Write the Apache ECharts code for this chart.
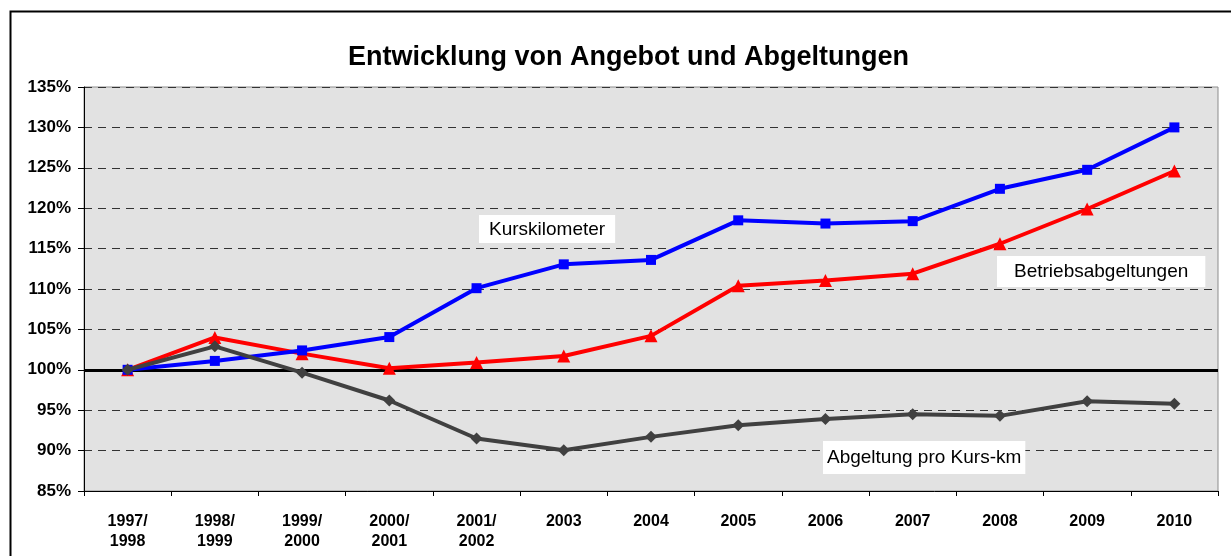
<!DOCTYPE html>
<html>
<head>
<meta charset="utf-8">
<script src="https://cdn.jsdelivr.net/npm/echarts@6/dist/echarts.min.js"></script>
<style>
  html, body { margin: 0; padding: 0; background: #fff; }
  #chart { width: 1231px; height: 556px; }
</style>
</head>
<body>
<div id="chart"></div>
<script>
const categories = ['1997/\n1998', '1998/\n1999', '1999/\n2000', '2000/\n2001', '2001/\n2002',
    '2003', '2004', '2005', '2006', '2007', '2008', '2009', '2010'];
// Werte in Prozent (1997/98 = 100%)
const kurskilometer = [100, 101.1, 102.4, 104.05, 110.1, 113.05, 113.6, 118.5, 118.1, 118.4, 122.4, 124.75, 130.0];
const betriebsabgeltungen = [100, 104.0, 102.0, 100.2, 100.9, 101.7, 104.2, 110.4, 111.05, 111.9, 115.6, 119.9, 124.6];
const abgeltungProKm = [100, 102.9, 99.65, 96.2, 91.5, 90.05, 91.7, 93.15, 93.9, 94.5, 94.3, 96.1, 95.8];
const yTicks = { min: 85, max: 135, interval: 5 };

const chart = echarts.init(document.getElementById('chart'));
const font = 'Liberation Sans, Arial, sans-serif';

const labelBox = (text, left, top, padding) => ({
    type: 'text',
    left: left,
    top: top,
    z: 100,
    style: {
        text: text,
        font: '19px ' + font,
        fill: '#000',
        backgroundColor: '#fff',
        padding: padding
    }
});

const option = {
    animation: false,
    title: {
        text: 'Entwicklung von Angebot und Abgeltungen',
        left: 343,
        top: 39,
        textStyle: { fontFamily: font, fontSize: 27, fontWeight: 'bold', color: '#000' }
    },
    grid: {
        left: 84, right: 13, top: 87, bottom: 65,
        show: true,
        backgroundColor: '#e2e2e2',
        borderColor: '#8c8c8c',
        borderWidth: 1
    },
    xAxis: {
        type: 'category',
        data: categories,
        boundaryGap: true,
        axisLine: { lineStyle: { color: '#000', width: 1 } },
        axisTick: { show: true, length: 5, lineStyle: { color: '#000' } },
        axisLabel: {
            interval: 0,
            margin: 21,
            fontFamily: font, fontSize: 16, fontWeight: 'bold', color: '#000', lineHeight: 20
        },
        splitLine: { show: false }
    },
    yAxis: {
        type: 'value',
        min: yTicks.min, max: yTicks.max, interval: yTicks.interval,
        axisLine: { show: true, lineStyle: { color: '#000', width: 1 } },
        axisTick: { show: true, length: 6, lineStyle: { color: '#000' } },
        axisLabel: {
            formatter: '{value}%',
            margin: 13,
            fontFamily: font, fontSize: 17, fontWeight: 'bold', color: '#000'
        },
        splitLine: { show: true, lineStyle: { color: '#333', width: 1, type: [8, 6] } }
    },
    series: [
        {
            name: 'Betriebsabgeltungen',
            type: 'line',
            data: betriebsabgeltungen,
            z: 3,
            symbol: 'triangle',
            symbolSize: 13,
            lineStyle: { color: '#ff0000', width: 4 },
            itemStyle: { color: '#ff0000' },
            markLine: {
                silent: true,
                symbol: ['none', 'none'],
                label: { show: false },
                lineStyle: { color: '#000', width: 3, type: 'solid' },
                data: [{ yAxis: 100 }],
                z: 2
            }
        },
        {
            name: 'Kurskilometer',
            type: 'line',
            data: kurskilometer,
            z: 4,
            symbol: 'rect',
            symbolSize: 10,
            lineStyle: { color: '#0000ff', width: 4 },
            itemStyle: { color: '#0000ff' }
        },
        {
            name: 'Abgeltung pro Kurs-km',
            type: 'line',
            data: abgeltungProKm,
            z: 5,
            symbol: 'diamond',
            symbolSize: 12,
            lineStyle: { color: '#404040', width: 4 },
            itemStyle: { color: '#404040' }
        }
    ],
    graphic: [
        {
            type: 'rect',
            left: 8, top: 9,
            shape: { width: 1240, height: 560 },
            style: { fill: 'none', stroke: '#000', lineWidth: 2 },
            z: -10
        },
        labelBox('Kurskilometer', 479, 215, [5, 10, 4, 10]),
        labelBox('Betriebsabgeltungen', 997, 256, [6, 17, 6, 17]),
        labelBox('Abgeltung pro Kurs-km', 823, 441, [7, 4, 7, 4])
    ]
};

chart.setOption(option);
</script>
</body>
</html>
